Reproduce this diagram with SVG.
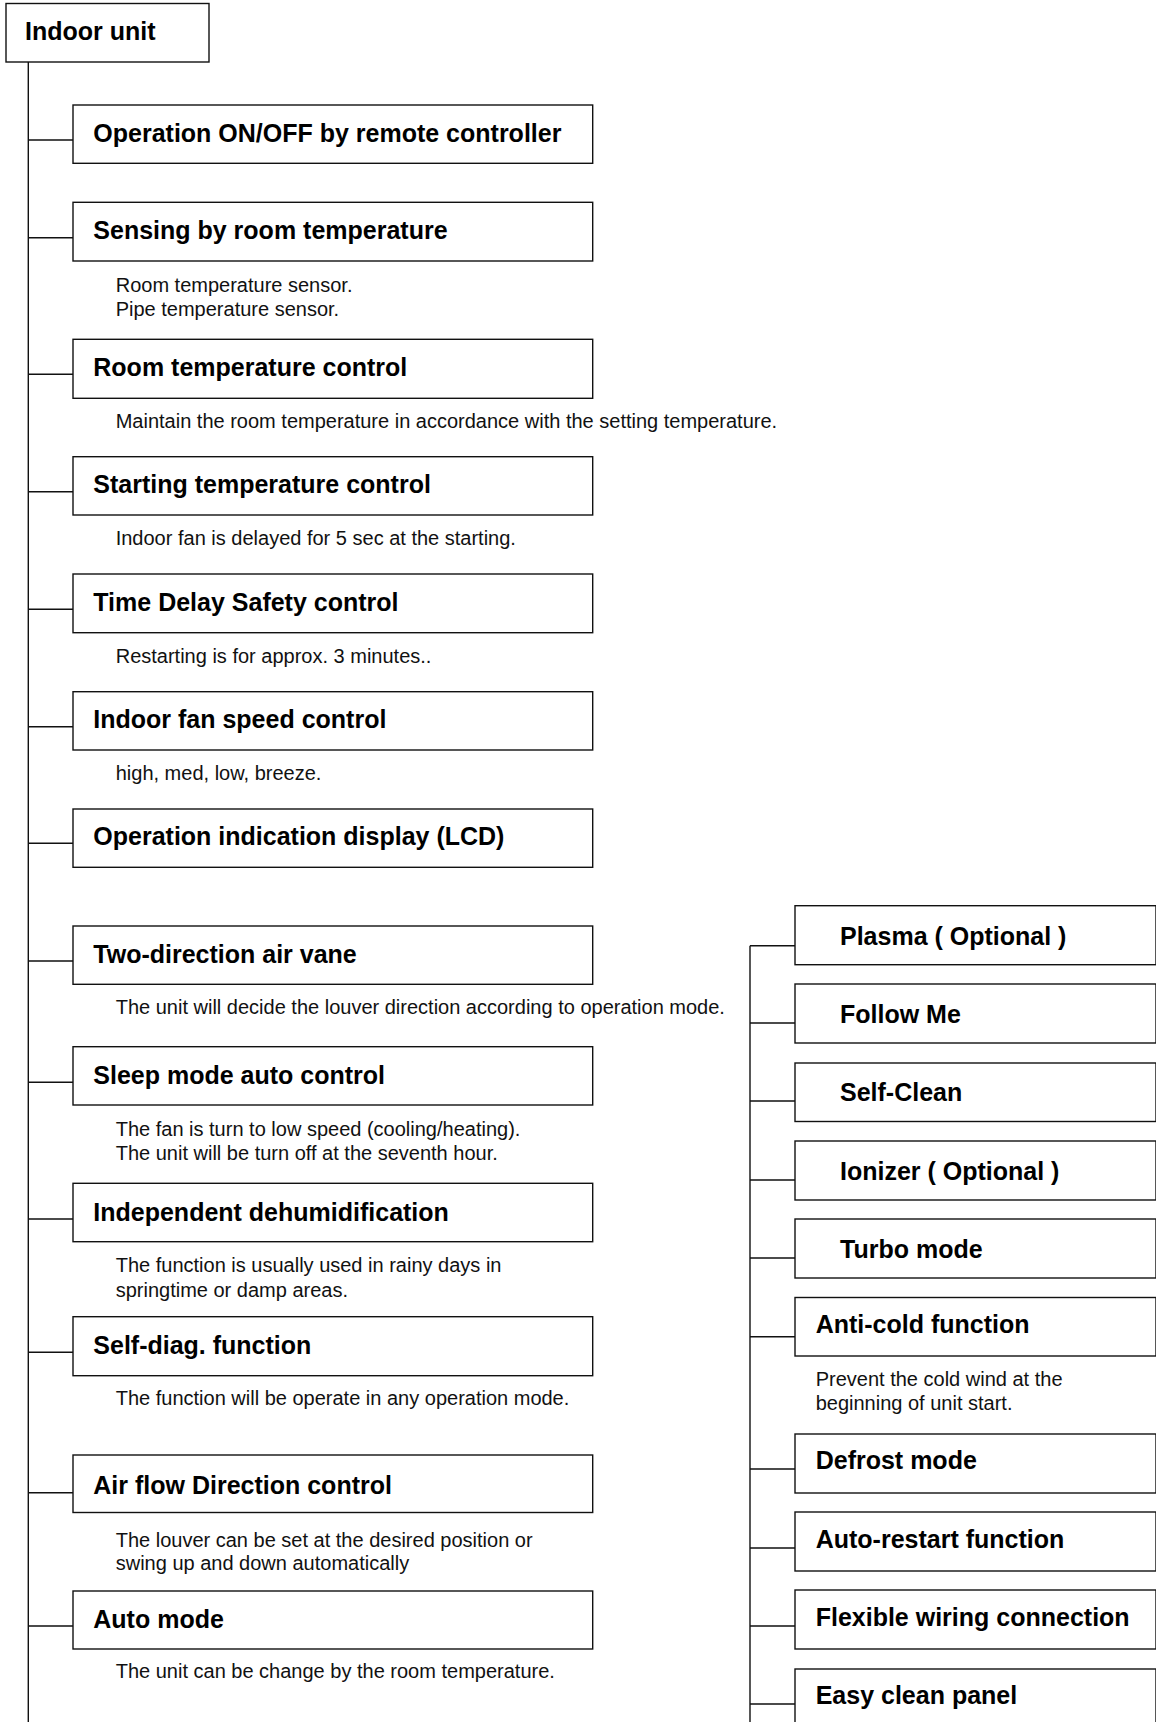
<svg xmlns="http://www.w3.org/2000/svg" width="1156" height="1722" viewBox="0 0 1156 1722">
  <style>
    .box { fill: #ffffff; stroke: #111111; stroke-width: 1.4; }
    .wire { fill: none; stroke: #111111; stroke-width: 1.4; }
    .h { font-family: "Liberation Sans", Arial, Helvetica, sans-serif; font-weight: bold; font-size: 25px; fill: #000000; }
    .d { font-family: "Liberation Sans", Arial, Helvetica, sans-serif; font-size: 20px; fill: #111111; }
  </style>
  <rect width="1156" height="1722" fill="#ffffff"/>

  <!-- tree wiring: main trunk on the left, second trunk on the right -->
  <g id="connectors">
    <path class="wire" d="M28.3 62 V1722"/>
    <path class="wire" d="M28.3 140 H73 M28.3 237.7 H73 M28.3 374.3 H73 M28.3 491.7 H73 M28.3 609.3 H73 M28.3 726.7 H73 M28.3 843.3 H73 M28.3 961 H73 M28.3 1082.3 H73 M28.3 1219 H73 M28.3 1352.3 H73 M28.3 1492.7 H73 M28.3 1626 H73"/>
    <path class="wire" d="M750 945.7 V1722"/>
    <path class="wire" d="M750 945.7 H795 M750 1023 H795 M750 1101 H795 M750 1180 H795 M750 1258 H795 M750 1336.7 H795 M750 1469 H795 M750 1548 H795 M750 1626 H795 M750 1704 H795"/>
  </g>

  <!-- root -->
  <g id="indoor-unit">
    <rect class="box" x="6" y="3.5" width="203" height="58.5"/>
    <text class="h" x="25" y="40">Indoor unit</text>
  </g>

  <!-- left column functions -->
  <g id="on-off">
    <rect class="box" x="73" y="105" width="519.7" height="58.3"/>
    <text class="h" x="93.3" y="141.5">Operation ON/OFF by remote controller</text>
  </g>
  <g id="sensing">
    <rect class="box" x="73" y="202.3" width="519.7" height="58.7"/>
    <text class="h" x="93.3" y="239.3">Sensing by room temperature</text>
    <text class="d" x="115.7" y="291.7">Room temperature sensor.</text>
    <text class="d" x="115.7" y="315.7">Pipe temperature sensor.</text>
  </g>
  <g id="room-temp">
    <rect class="box" x="73" y="339.3" width="519.7" height="59"/>
    <text class="h" x="93.3" y="376">Room temperature control</text>
    <text class="d" x="115.7" y="428.3">Maintain the room temperature in accordance with the setting temperature.</text>
  </g>
  <g id="starting-temp">
    <rect class="box" x="73" y="456.7" width="519.7" height="58.3"/>
    <text class="h" x="93.3" y="493">Starting temperature control</text>
    <text class="d" x="115.7" y="545">Indoor fan is delayed for 5 sec at the starting.</text>
  </g>
  <g id="time-delay">
    <rect class="box" x="73" y="574" width="519.7" height="58.7"/>
    <text class="h" x="93.3" y="610.5">Time Delay Safety control</text>
    <text class="d" x="115.7" y="662.7">Restarting is for approx. 3 minutes..</text>
  </g>
  <g id="fan-speed">
    <rect class="box" x="73" y="691.7" width="519.7" height="58.3"/>
    <text class="h" x="93.3" y="728">Indoor fan speed control</text>
    <text class="d" x="115.7" y="780">high, med, low, breeze.</text>
  </g>
  <g id="lcd">
    <rect class="box" x="73" y="809" width="519.7" height="58.3"/>
    <text class="h" x="93.3" y="845">Operation indication display (LCD)</text>
  </g>
  <g id="air-vane">
    <rect class="box" x="73" y="926" width="519.7" height="58.3"/>
    <text class="h" x="93.3" y="962.5">Two-direction air vane</text>
    <text class="d" x="115.7" y="1014">The unit will decide the louver direction according to operation mode.</text>
  </g>
  <g id="sleep-mode">
    <rect class="box" x="73" y="1046.7" width="519.7" height="58.3"/>
    <text class="h" x="93.3" y="1083.5">Sleep mode auto control</text>
    <text class="d" x="115.7" y="1135.7">The fan is turn to low speed (cooling/heating).</text>
    <text class="d" x="115.7" y="1160">The unit will be turn off at the seventh hour.</text>
  </g>
  <g id="dehumidification">
    <rect class="box" x="73" y="1183.3" width="519.7" height="58.4"/>
    <text class="h" x="93.3" y="1220.5">Independent dehumidification</text>
    <text class="d" x="115.7" y="1272.3">The function is usually used in rainy days in</text>
    <text class="d" x="115.7" y="1296.7">springtime or damp areas.</text>
  </g>
  <g id="self-diag">
    <rect class="box" x="73" y="1316.7" width="519.7" height="59"/>
    <text class="h" x="93.3" y="1353.5">Self-diag. function</text>
    <text class="d" x="115.7" y="1405">The function will be operate in any operation mode.</text>
  </g>
  <g id="air-flow">
    <rect class="box" x="73" y="1455" width="519.7" height="57.5"/>
    <text class="h" x="93.3" y="1494">Air flow Direction control</text>
    <text class="d" x="115.7" y="1546.7">The louver can be set at the desired position or</text>
    <text class="d" x="115.7" y="1570">swing up and down automatically</text>
  </g>
  <g id="auto-mode">
    <rect class="box" x="73" y="1591" width="519.7" height="58"/>
    <text class="h" x="93.3" y="1627.5">Auto mode</text>
    <text class="d" x="115.7" y="1678.3">The unit can be change by the room temperature.</text>
  </g>

  <!-- right column functions -->
  <g id="plasma">
    <rect class="box" x="795" y="905.7" width="361" height="59"/>
    <text class="h" x="840" y="945">Plasma ( Optional )</text>
  </g>
  <g id="follow-me">
    <rect class="box" x="795" y="984" width="361" height="59"/>
    <text class="h" x="840" y="1023.3">Follow Me</text>
  </g>
  <g id="self-clean">
    <rect class="box" x="795" y="1063" width="361" height="58.5"/>
    <text class="h" x="840" y="1101">Self-Clean</text>
  </g>
  <g id="ionizer">
    <rect class="box" x="795" y="1141" width="361" height="59"/>
    <text class="h" x="840" y="1179.7">Ionizer ( Optional )</text>
  </g>
  <g id="turbo">
    <rect class="box" x="795" y="1219" width="361" height="59"/>
    <text class="h" x="840" y="1258">Turbo mode</text>
  </g>
  <g id="anti-cold">
    <rect class="box" x="795" y="1297.5" width="361" height="58.5"/>
    <text class="h" x="815.7" y="1333">Anti-cold function</text>
    <text class="d" x="815.7" y="1386">Prevent the cold wind at the</text>
    <text class="d" x="815.7" y="1410">beginning of unit start.</text>
  </g>
  <g id="defrost">
    <rect class="box" x="795" y="1434" width="361" height="59"/>
    <text class="h" x="815.7" y="1469">Defrost mode</text>
  </g>
  <g id="auto-restart">
    <rect class="box" x="795" y="1512" width="361" height="59"/>
    <text class="h" x="815.7" y="1548.3">Auto-restart function</text>
  </g>
  <g id="flexible-wiring">
    <rect class="box" x="795" y="1590" width="361" height="59"/>
    <text class="h" x="815.7" y="1626">Flexible wiring connection</text>
  </g>
  <g id="easy-clean">
    <rect class="box" x="795" y="1669" width="361" height="60"/>
    <text class="h" x="815.7" y="1704">Easy clean panel</text>
  </g>
</svg>
